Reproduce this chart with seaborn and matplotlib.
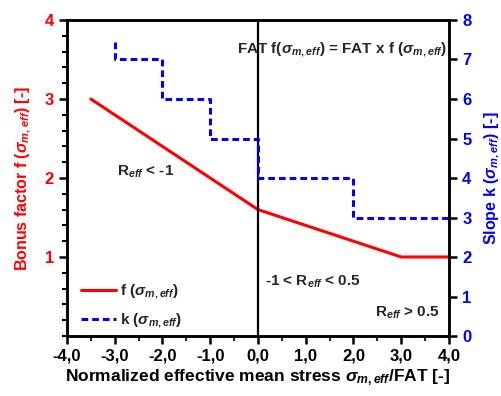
import matplotlib
matplotlib.use("Agg")
import matplotlib.pyplot as plt
import seaborn as sns
import pandas as pd
from matplotlib.ticker import MultipleLocator

sns.set_theme(style="white")
plt.rcParams['font.family'] = ['Liberation Sans', 'DejaVu Sans']
plt.rcParams['font.weight'] = 'bold'
plt.rcParams['mathtext.fontset'] = 'custom'
plt.rcParams['mathtext.rm'] = 'Liberation Sans:bold'
plt.rcParams['mathtext.it'] = 'Liberation Sans:bold:italic'
plt.rcParams['mathtext.bf'] = 'Liberation Sans:bold'

# data
f_x = [-3.5, 0.0, 3.0, 4.0]
f_y = [3.0, 1.6, 1.0, 1.0]
k_x = [-3.0, -3.0, -2.0, -1.0, 0.0, 2.0, 4.0]
k_y = [7.45, 7.0, 6.0, 5.0, 4.0, 3.0, 3.0]
x_ticks = [-4, -3, -2, -1, 0, 1, 2, 3, 4]
x_tick_labels = ["-4,0", "-3,0", "-2,0", "-1,0", "0,0", "1,0", "2,0", "3,0", "4,0"]

df_f = pd.DataFrame({"x": f_x, "y": f_y})
df_k = pd.DataFrame({"x": k_x, "y": k_y})

fig = plt.figure(figsize=(5.01, 3.96), dpi=100)
ax = fig.add_axes([0.1337, 0.1515, 0.7625, 0.798])
ax2 = ax.twinx()

red = "#ff0000"
blue = "#0000ff"
sub = r"$_{m,eff}$"

sns.lineplot(data=df_f, x="x", y="y", ax=ax, color=red, lw=2.2, estimator=None, sort=False,
             label=r"f ($\sigma$" + sub + ")")
sns.lineplot(data=df_k, x="x", y="y", ax=ax2, color=blue, lw=2.2, estimator=None, sort=False,
             drawstyle="steps-post", dashes=False, linestyle=(0, (2.2, 1.3)),
             label=r"k ($\sigma$" + sub + ")")

ax.axvline(0, color="black", lw=1.6)

ax.set_xlim(-4, 4)
ax.set_ylim(0, 4)
ax2.set_ylim(0, 8)
ax.set_xticks(x_ticks)
ax.set_xticklabels(x_tick_labels)
ax.xaxis.set_minor_locator(MultipleLocator(0.5))
ax.set_yticks([1, 2, 3, 4])
ax.yaxis.set_minor_locator(MultipleLocator(0.2))
ax2.set_yticks([0, 1, 2, 3, 4, 5, 6, 7, 8])

for a in (ax, ax2):
    for s in a.spines.values():
        s.set_color("black")
        s.set_linewidth(1.8)
    a.grid(False)

ax.tick_params(axis="x", which="major", direction="out", length=6, width=1.8, colors="black",
               labelsize=12, pad=3, bottom=True)
ax.tick_params(axis="x", which="minor", direction="out", length=3.5, width=1.5, bottom=True)
ax.tick_params(axis="y", which="major", direction="out", length=6, width=1.8, color="black",
               labelcolor=red, labelsize=12, left=True)
ax.tick_params(axis="y", which="minor", direction="out", length=3.5, width=1.5, color="black", left=True)
ax2.tick_params(axis="y", which="major", direction="out", length=6, width=1.8, color="black",
                labelcolor=blue, labelsize=12, right=True)
for lab in ax.get_xticklabels() + ax.get_yticklabels() + ax2.get_yticklabels():
    lab.set_fontweight("bold")

ax.set_xlabel(r"Normalized effective mean stress $\sigma$" + sub + "/FAT [-]",
              fontsize=12.5, fontweight="bold", color="black", labelpad=3)
ax.set_ylabel(r"Bonus factor f ($\sigma$" + sub + ") [-]", fontsize=11.5, fontweight="bold",
              color=red, labelpad=8)
ax2.set_ylabel(r"Slope k ($\sigma$" + sub + ") [-]", fontsize=11.5, fontweight="bold",
               color=blue, labelpad=8)

ax.text(1.76, 3.62, r"FAT f($\sigma$" + sub + r") = FAT x f ($\sigma$" + sub + ")",
        ha="center", va="center", fontsize=11, fontweight="bold")
ax.text(-2.35, 2.08, r"R$_{eff}$ < -1", ha="center", va="center", fontsize=11, fontweight="bold")
ax.text(0.15, 0.68, r"-1 < R$_{eff}$ < 0.5", ha="left", va="center", fontsize=11, fontweight="bold")
ax.text(3.81, 0.30, r"R$_{eff}$ > 0.5", ha="right", va="center", fontsize=11, fontweight="bold")

h1, l1 = ax.get_legend_handles_labels()
h2, l2 = ax2.get_legend_handles_labels()
if ax2.get_legend():
    ax2.get_legend().remove()
ax.legend(h1 + h2, l1 + l2, loc="lower left", bbox_to_anchor=(0.0, -0.025), frameon=False,
          handlelength=2.3, handletextpad=0.3, labelspacing=0.7,
          prop={"weight": "bold", "size": 11})

fig.savefig("out.png", dpi=100)
